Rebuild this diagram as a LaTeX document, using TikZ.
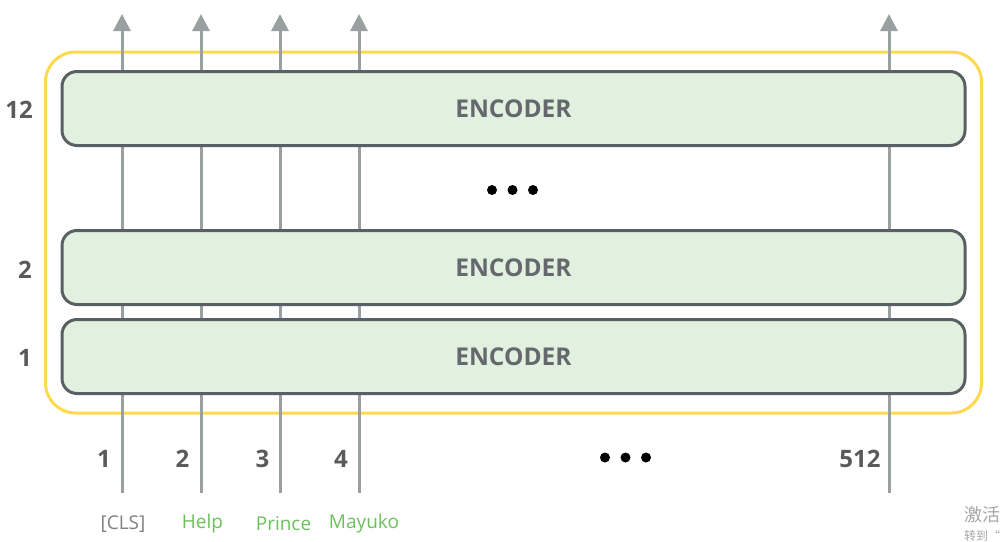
\documentclass[tikz,border=0pt]{standalone}
\usepackage{fontspec}
\setmainfont{Open Sans}
\newfontfamily\cjk{Noto Sans CJK SC}
\usetikzlibrary{arrows.meta}
\definecolor{encfill}{HTML}{E2F0DF}
\definecolor{encdraw}{HTML}{5A5F63}
\definecolor{frameyellow}{HTML}{FDD94E}
\definecolor{arrowgray}{HTML}{9AA0A0}
\definecolor{textgray}{HTML}{5A5A5A}
\definecolor{enctext}{HTML}{65696D}
\definecolor{tokgreen}{HTML}{6CC05C}
\begin{document}
\begin{tikzpicture}[x=1pt,y=-1pt,
  encbox/.style={draw=encdraw, fill=encfill, line width=3pt, rounded corners=15pt,
    minimum width=903pt, minimum height=74pt, inner sep=0pt,
    font=\bfseries\fontsize{24.5}{26}\selectfont, text=enctext},
  frame/.style={draw=frameyellow, line width=3pt, rounded corners=30pt},
  flow/.style={draw=arrowgray, line width=3pt, -{Triangle[length=17pt,width=17pt]}},
  numlabel/.style={font=\bfseries\fontsize{24}{26}\selectfont, text=textgray, inner sep=0pt},
  token/.style={font=\fontsize{19}{21}\selectfont, inner sep=0pt},
  dot/.style={circle, fill=black, minimum size=10pt, inner sep=0pt},
  wmark/.style={font=\cjk\fontsize{18}{20}\selectfont, text=gray!70, inner sep=0pt}
]
\useasboundingbox (0,0) rectangle (1001,541);
% outer frame
\node[frame, minimum width=936pt, minimum height=361pt, inner sep=0pt] (stack) at (513.5,232.5) {};
% coordinates for flows
\foreach \n/\x in {c1/122, c2/201, c3/280, c4/359, c512/889}{
  \coordinate (\n-in) at (\x,493);
  \coordinate (\n-out) at (\x,14);
}
\foreach \n in {c1,c2,c3,c4,c512}{
  \draw[flow] (\n-in) -- (\n-out);
}
% encoders
\node[encbox] (enc12) at (513.5,108.5) {ENCODER};
\node[encbox] (enc2) at (513.5,267.5) {ENCODER};
\node[encbox] (enc1) at (513.5,356.5) {ENCODER};
% layer numbers
\node[numlabel] (l12) at (19,110) {12};
\node[numlabel] (l2) at (25,269.5) {2};
\node[numlabel] (l1) at (25,357.5) {1};
% dots
\node[dot] (vd1) at (492,190) {};
\node[dot] (vd2) at (512.5,190) {};
\node[dot] (vd3) at (533,190) {};
\node[dot] (hd1) at (605,457.5) {};
\node[dot] (hd2) at (625.5,457.5) {};
\node[dot] (hd3) at (646,457.5) {};
% position numbers
\node[numlabel] (p1) at (104,458.5) {1};
\node[numlabel] (p2) at (182.5,458.5) {2};
\node[numlabel] (p3) at (262.5,458.5) {3};
\node[numlabel] (p4) at (341,458.5) {4};
\node[numlabel] (p512) at (860,458.5) {512};
% tokens
\node[token, text=gray] (t1) at (123,524) {[CLS]};
\node[token, text=tokgreen] (t2) at (202.5,524) {Help};
\node[token, text=tokgreen] (t3) at (283.5,524) {Prince};
\node[token, text=tokgreen] (t4) at (364,524) {Mayuko};
% watermark
\node[wmark, anchor=west] (wm1) at (964,515) {激活};
\node[wmark, anchor=west, font=\cjk\fontsize{12}{13}\selectfont] (wm2) at (964,536) {转到“};
\end{tikzpicture}
\end{document}
